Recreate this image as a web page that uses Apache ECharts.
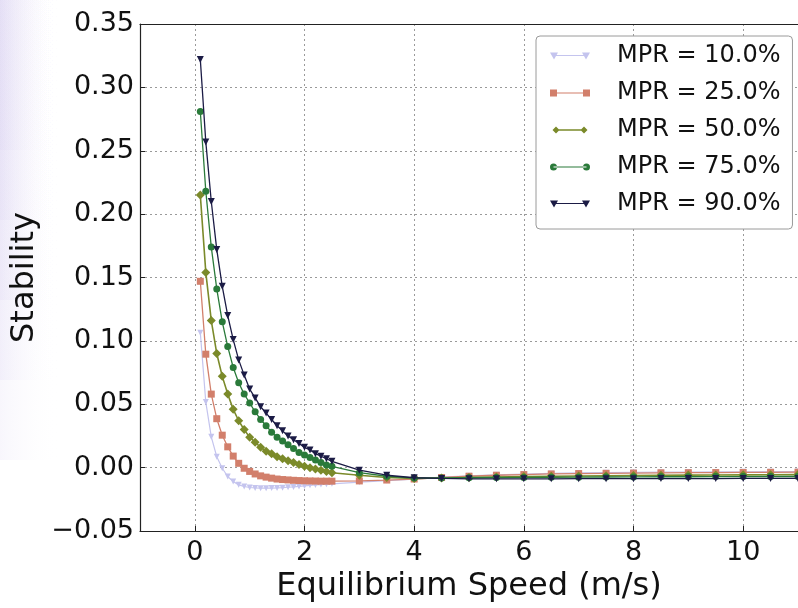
<!DOCTYPE html>
<html>
<head>
<meta charset="utf-8">
<script src="https://cdn.jsdelivr.net/npm/echarts@6/dist/echarts.min.js"></script>
<style>
html,body{margin:0;padding:0;background:#fff;}
#chart{width:798px;height:608px;}
</style>
</head>
<body>
<div id="chart"></div>
<script>
// Equilibrium speed (m/s)
var speeds = [0.1,0.2,0.3,0.4,0.5,0.6,0.7,0.8,0.9,1.0,1.1,1.2,1.3,1.4,1.5,1.6,1.7,1.8,1.9,2.0,2.1,2.2,2.3,2.4,2.5,
  3.0,3.5,4.0,4.5,5.0,5.5,6.0,6.5,7.0,7.5,8.0,8.5,9.0,9.5,10.0,10.5,11.0];

var mpr10 = [0.1065,0.0517,0.0243,0.0086,-0.0005,-0.007,-0.011,-0.0136,-0.0149,-0.0157,-0.016,-0.0162,-0.0162,-0.0161,-0.016,-0.0158,-0.0155,-0.0152,-0.0148,-0.0144,-0.014,-0.0137,-0.0134,-0.0131,-0.0128,
  -0.0115,-0.0102,-0.009,-0.0075,-0.0065,-0.0057,-0.0051,-0.0046,-0.0042,-0.004,-0.0038,-0.0036,-0.0035,-0.0034,-0.0033,-0.0032,-0.0031];
var mpr25 = [0.147,0.0895,0.058,0.0386,0.0256,0.0164,0.0091,0.0034,-0.0005,-0.003,-0.005,-0.0065,-0.0075,-0.0083,-0.009,-0.0094,-0.0097,-0.01,-0.0102,-0.0104,-0.0105,-0.0106,-0.0107,-0.0107,-0.0107,
  -0.0105,-0.0098,-0.009,-0.0078,-0.0068,-0.006,-0.0055,-0.005,-0.0047,-0.0045,-0.0043,-0.0041,-0.004,-0.0039,-0.0038,-0.0037,-0.0036];
var mpr50 = [0.215,0.154,0.116,0.090,0.072,0.058,0.046,0.037,0.030,0.024,0.020,0.016,0.013,0.011,0.0086,0.007,0.0055,0.004,0.0025,0.001,0.0,-0.001,-0.002,-0.003,-0.004,
  -0.006,-0.0078,-0.0085,-0.0082,-0.0078,-0.0074,-0.0071,-0.0068,-0.0066,-0.0064,-0.0062,-0.006,-0.0059,-0.0058,-0.0057,-0.0056,-0.0055];
var mpr75 = [0.281,0.218,0.174,0.141,0.115,0.0955,0.079,0.067,0.058,0.051,0.044,0.038,0.033,0.028,0.024,0.021,0.018,0.015,0.012,0.010,0.008,0.006,0.004,0.002,0.001,
  -0.004,-0.0068,-0.0082,-0.0082,-0.008,-0.0078,-0.0077,-0.0076,-0.0075,-0.0074,-0.0073,-0.0072,-0.0072,-0.0071,-0.0071,-0.007,-0.007];
var mpr90 = [0.322,0.257,0.210,0.172,0.143,0.120,0.101,0.085,0.073,0.062,0.055,0.048,0.043,0.038,0.033,0.029,0.025,0.022,0.019,0.016,0.014,0.011,0.009,0.007,0.005,
  -0.002,-0.006,-0.008,-0.0085,-0.0088,-0.0088,-0.0088,-0.0088,-0.0087,-0.0087,-0.0087,-0.0086,-0.0086,-0.0086,-0.0085,-0.0085,-0.0085];

var seriesNames = ['MPR = 10.0%','MPR = 25.0%','MPR = 50.0%','MPR = 75.0%','MPR = 90.0%'];
var xTicks = [0,2,4,6,8,10];

var FONT = 'DejaVu Sans';
function pairs(ys){ return speeds.map(function(x,i){ return [x, ys[i]]; }); }
function fmtY(v){
  var s = Math.abs(v).toFixed(2);
  return (v < -1e-9 ? '\u2212' : '') + s;
}

// legend icons: line with a marker at each end (40 wide)
var icTri = 'path://M0,0 L8,0 L4,7 Z M32,0 L40,0 L36,7 Z M4,2.6 L36,2.6 L36,3.6 L4,3.6 Z';
var icRect = 'path://M0,0 L7,0 L7,7 L0,7 Z M33,0 L40,0 L40,7 L33,7 Z M3.5,3 L36.5,3 L36.5,4 L3.5,4 Z';
var icDia = 'path://M0,4 L4,0 L8,4 L4,8 Z M32,4 L36,0 L40,4 L36,8 Z M4,3.2 L36,3.2 L36,4.8 L4,4.8 Z';
var icCirc = 'path://M0,3.5 A3.5,3.5 0 1,0 7,3.5 A3.5,3.5 0 1,0 0,3.5 Z M33,3.5 A3.5,3.5 0 1,0 40,3.5 A3.5,3.5 0 1,0 33,3.5 Z M3.5,3 L36.5,3 L36.5,4 L3.5,4 Z';

var styles = [
  {data: mpr10, color:'#c4c4ee', symbol:'triangle', rot:180, size:6, width:1.2, icon: icTri},
  {data: mpr25, color:'#d27f6b', symbol:'rect', rot:0, size:7, width:1.3, icon: icRect},
  {data: mpr50, color:'#7b8a2a', symbol:'diamond', rot:0, size:9, width:1.6, icon: icDia},
  {data: mpr75, color:'#2a7a3a', symbol:'circle', rot:0, size:7, width:1.3, icon: icCirc},
  {data: mpr90, color:'#1b1b45', symbol:'triangle', rot:180, size:7, width:1.3, icon: icTri}
];

// soft lavender tint at the left edge (slide background)
var tintHeights = [460, 380, 300, 220, 150];
var tint = tintHeights.map(function(h){
  return {
    type: 'rect', left: 0, top: 0, z: -10, silent: true,
    shape: {x: 0, y: 0, width: 60, height: h},
    style: {fill: {type: 'linear', x: 0, y: 0, x2: 1, y2: 0, colorStops: [
      {offset: 0, color: 'rgba(210,200,238,0.16)'}, {offset: 1, color: 'rgba(255,255,255,0)'}]}}
  };
});

var chart = echarts.init(document.getElementById('chart'), null, {renderer:'canvas'});
var option = {
  animation: false,
  backgroundColor: '#ffffff',
  textStyle: {fontFamily: FONT},
  graphic: tint,
  grid: {left: 140, top: 24, width: 667, height: 511, containLabel: false},
  legend: {
    orient: 'vertical',
    left: 536, top: 36,
    padding: [8, 12, 13, 14],
    itemGap: 13,
    itemWidth: 40, itemHeight: 7,
    borderColor: '#9a9a9a', borderWidth: 1, borderRadius: 4,
    backgroundColor: '#ffffff',
    textStyle: {fontFamily: FONT, fontSize: 24, color: '#111', padding: [0,0,0,22], lineHeight: 24},
    data: styles.map(function(s, i){ return {name: seriesNames[i], icon: s.icon, itemStyle: {color: s.color}}; })
  },
  xAxis: [{
    type: 'value', min: -1, max: 11, position: 'bottom',
    name: 'Equilibrium Speed (m/s)', nameLocation: 'middle', nameGap: 40,
    nameTextStyle: {fontFamily: FONT, fontSize: 32, color: '#111'},
    axisLine: {show: true, onZero: false, lineStyle: {color: '#222', width: 1.2}},
    axisTick: {show: true, inside: true, length: 5, customValues: xTicks, lineStyle: {color:'#222'}},
    axisLabel: {fontFamily: FONT, fontSize: 27, color: '#111', margin: 8, customValues: xTicks,
      formatter: function(v){ return String(v); }},
    splitLine: {show: true, lineStyle: {color: '#9a9a9a', type: [2,3], width: 1}}
  },{
    type: 'value', min: -1, max: 11, position: 'top',
    axisLine: {show: true, onZero: false, lineStyle: {color: '#222', width: 1.2}},
    axisTick: {show: false}, axisLabel: {show: false}, splitLine: {show: false}
  }],
  yAxis: {
    type: 'value', min: -0.05, max: 0.35, interval: 0.05,
    name: 'Stability', nameLocation: 'middle', nameGap: 97, nameRotate: 90,
    nameTextStyle: {fontFamily: FONT, fontSize: 32, color: '#111'},
    axisLine: {show: true, onZero: false, lineStyle: {color: '#222', width: 1.2}},
    axisTick: {show: true, inside: true, length: 5, lineStyle: {color:'#222'}},
    axisLabel: {fontFamily: FONT, fontSize: 27, color: '#111', margin: 6, formatter: fmtY},
    splitLine: {show: true, lineStyle: {color: '#9a9a9a', type: [2,3], width: 1}}
  },
  series: styles.map(function(s, i){
    return {
      name: seriesNames[i], type: 'line', xAxisIndex: 0,
      data: pairs(s.data),
      symbol: s.symbol, symbolSize: s.size, symbolRotate: s.rot,
      showAllSymbol: true,
      lineStyle: {color: s.color, width: s.width},
      itemStyle: {color: s.color, borderWidth: 0},
      z: 2 + i
    };
  })
};
chart.setOption(option);
</script>
</body>
</html>
